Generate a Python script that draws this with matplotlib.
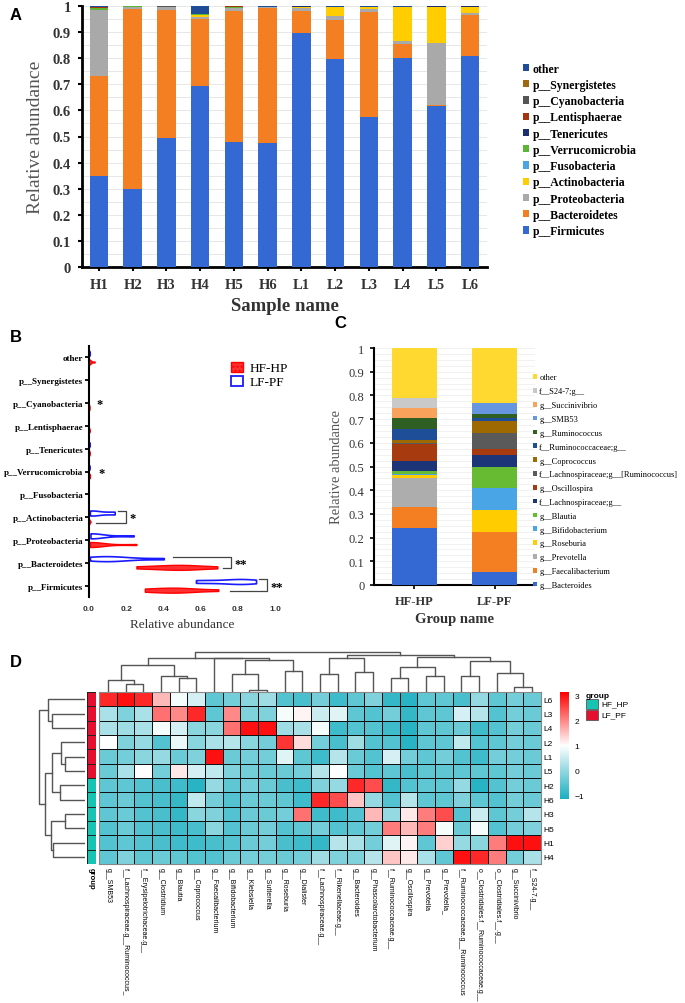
import numpy as np
import matplotlib.pyplot as plt
from matplotlib.colors import LinearSegmentedColormap, ListedColormap
from matplotlib.patches import Patch, Rectangle

SERIF = "Liberation Serif"
SANS = "Liberation Sans"

# ---------------- panel A data (H1..H6, L1..L6) ----------------
samples = ["H1", "H2", "H3", "H4", "H5", "H6", "L1", "L2", "L3", "L4", "L5", "L6"]
firmicutes = [0.350, 0.300, 0.495, 0.695, 0.480, 0.475, 0.898, 0.798, 0.575, 0.800, 0.615, 0.810]
bacteroidetes = [0.380, 0.690, 0.490, 0.255, 0.500, 0.517, 0.083, 0.150, 0.402, 0.055, 0.005, 0.157]
proteobacteria = [0.255, 0.006, 0.010, 0.008, 0.013, 0.006, 0.012, 0.012, 0.013, 0.010, 0.240, 0.008]
actinobacteria = [0.001, 0.000, 0.001, 0.008, 0.001, 0.000, 0.005, 0.036, 0.005, 0.130, 0.138, 0.021]
fusobacteria = [0.000] * 12
verrucomicrobia = [0.005, 0.004, 0.000, 0.002, 0.001, 0.000, 0.000, 0.000, 0.000, 0.000, 0.000, 0.002]
tenericutes = [0.003, 0.000, 0.002, 0.001, 0.001, 0.000, 0.001, 0.000, 0.002, 0.003, 0.001, 0.001]
lentisphaerae = [0.002, 0.000, 0.000, 0.000, 0.003, 0.000, 0.000, 0.000, 0.000, 0.000, 0.000, 0.000]
cyanobacteria = [0.002, 0.000, 0.001, 0.001, 0.001, 0.000, 0.000, 0.000, 0.000, 0.000, 0.000, 0.000]
synergistetes = [0.000] * 12
other_phyla = [0.002, 0.000, 0.001, 0.030, 0.000, 0.002, 0.001, 0.004, 0.003, 0.002, 0.001, 0.001]

phyla_names = ["p__Firmicutes", "p__Bacteroidetes", "p__Proteobacteria", "p__Actinobacteria",
               "p__Fusobacteria", "p__Verrucomicrobia", "p__Tenericutes", "p__Lentisphaerae",
               "p__Cyanobacteria", "p__Synergistetes", "other"]
phyla_vals = [firmicutes, bacteroidetes, proteobacteria, actinobacteria, fusobacteria,
              verrucomicrobia, tenericutes, lentisphaerae, cyanobacteria, synergistetes, other_phyla]
phyla_colors = ["#3469d4", "#f47e22", "#a9a9a9", "#ffcd00", "#4ba5e3", "#5db536",
                "#1b2f70", "#a3360f", "#555555", "#9e6a10", "#1f4d98"]

# ---------------- panel C data (HF-HP, LF-PF) ----------------
groups = ["HF-HP", "LF-PF"]
genus_names = ["g__Bacteroides", "g__Faecalibacterium", "g__Prevotella", "g__Roseburia",
               "g__Bifidobacterium", "g__Blautia", "f__Lachnospiraceae;g__", "g__Oscillospira",
               "f__Lachnospiraceae;g__[Ruminococcus]", "g__Coprococcus", "f__Ruminococcaceae;g__",
               "g__Ruminococcus", "g__SMB53", "g__Succinivibrio", "f__S24-7;g__", "other"]
genus_hf = [0.240, 0.088, 0.125, 0.012, 0.005, 0.010, 0.045, 0.072, 0.003, 0.012, 0.048,
            0.043, 0.002, 0.043, 0.042, 0.210]
genus_lf = [0.053, 0.169, 0.002, 0.091, 0.093, 0.092, 0.050, 0.025, 0.068, 0.049, 0.013,
            0.018, 0.047, 0.000, 0.000, 0.230]
genus_colors = ["#3469d4", "#f47e22", "#adadad", "#ffcc00", "#4aa5e6", "#66bb33", "#1c3578",
                "#a83a0f", "#5a5a5a", "#9e6a00", "#1f4e99", "#2f5f22", "#6796e0", "#f8a25c",
                "#c9c9c9", "#ffd92f"]

# ---------------- panel D data (z-scores) ----------------
hm_rows = ["L6", "L3", "L4", "L2", "L1", "L5", "H2", "H6", "H3", "H5", "H1", "H4"]
hm_group = [1, 1, 1, 1, 1, 1, 0, 0, 0, 0, 0, 0]
hm_cols = ["g__SMB53", "f__Lachnospiraceae.g__Ruminococcus_", "f__Erysipelotrichaceae.g__",
           "g__Clostridium", "g__Blautia", "g__Coprococcus", "g__Faecalibacterium",
           "g__Bifidobacterium", "g__Klebsiella", "g__Sutterella", "g__Roseburia", "g__Dialister",
           "f__Lachnospiraceae.g__", "f__Rikenellaceae.g__", "g__Bacteroides",
           "g__Phascolarctobacterium", "f__Ruminococcaceae.g__", "g__Oscillospira",
           "g__Prevotella", "g__Prevotella_", "f__Ruminococcaceae.g__Ruminococcus",
           "o__Clostridiales.f__Ruminococcaceae.g__", "o__Clostridiales.f__.g__",
           "g__Succinivibrio", "f__S24-7.g__"]
hm_vals = [
    [2.8, 3.0, 2.8, 1.6, 0.9, 0.6, -0.5, -0.3, -0.1, 0.1, -0.6, -0.7, -0.3, -0.8, -0.5, -0.2, -0.9, -1.0, -0.5, -0.5, -0.7, 0.0, -0.5, -0.3, -0.4],
    [0.2, -0.2, 0.2, 2.2, 2.0, 2.8, -0.5, 2.0, -0.2, -0.2, 0.9, 1.1, 0.5, 0.7, -0.5, -0.6, -0.3, -0.9, -0.5, -0.5, 0.6, 0.3, -0.6, -0.3, -0.4],
    [0.2, 0.1, 0.2, 0.9, 0.6, -0.1, -0.1, 2.2, 3.0, 3.0, 0.1, 0.2, 0.9, -0.8, -0.6, -0.6, -0.8, -1.0, -0.5, -0.5, -0.4, -0.8, -0.6, -0.3, -0.4],
    [1.0, -0.2, 0.0, -0.6, 0.8, -0.1, 0.2, 0.3, -0.1, -0.3, 2.7, 1.3, -0.3, -0.7, 0.1, -0.6, -0.6, -1.0, -0.5, -0.5, 0.4, -0.6, -0.5, -0.3, -0.4],
    [-0.4, -0.3, -0.1, 0.0, -0.4, -0.2, 3.0, -0.4, -0.3, -0.3, 0.7, -0.5, -0.8, 0.3, -0.4, -0.6, 0.6, -0.3, -0.5, -0.3, -0.6, -0.8, -0.3, -0.3, -0.4],
    [-0.4, 0.2, 1.0, -0.3, 1.2, 0.6, 0.4, -0.2, -0.3, -0.4, -0.4, -0.3, 0.3, 1.0, -0.4, -0.6, -0.5, -0.7, -0.5, -0.5, -0.5, -0.5, -0.5, -0.3, -0.4],
    [-0.5, -0.5, -0.6, -0.7, -0.8, -1.0, 0.0, -0.5, -0.3, -0.4, -0.7, -0.8, -0.2, 0.0, 2.8, 2.5, -0.9, -0.6, -0.5, -0.5, 0.0, -1.0, -0.6, -0.3, -0.4],
    [-0.5, -0.4, -0.6, -0.7, -0.9, 0.4, -0.3, -0.6, -0.4, -0.4, -0.5, -0.8, 2.8, 2.5, 1.5, 0.0, -0.6, 0.3, -0.5, -0.5, -0.2, -0.5, -0.6, -0.3, -0.4],
    [-0.5, -0.4, -0.6, -0.7, -0.9, -0.1, -0.2, -0.6, -0.4, -0.4, -0.3, 2.2, -0.8, -0.8, -0.6, 1.6, 0.0, 1.2, 2.1, 2.5, -0.6, 0.5, -0.5, -0.3, 0.3],
    [-0.6, -0.4, -0.6, -0.7, -0.8, -0.7, -0.1, -0.6, -0.4, -0.3, -0.6, -0.5, -0.3, -0.6, -0.5, -0.3, 2.1, 1.6, 2.1, 0.9, -0.4, 0.9, -0.6, -0.3, -0.2],
    [-0.6, -0.5, -0.6, -0.7, -0.8, -0.8, -0.7, -0.6, -0.4, -0.3, -0.7, -0.8, -0.9, 0.3, 0.2, -0.3, 0.7, 1.1, -0.5, 1.4, 0.0, -0.1, 2.1, 3.0, 3.0],
    [-0.5, -0.2, -0.5, -0.4, -0.5, -0.6, -0.6, -0.4, -0.3, -0.3, -0.4, -0.3, 0.1, -0.2, -0.2, 0.3, 1.5, 1.2, 0.2, -0.5, 3.0, 2.8, 2.1, -0.3, 0.2],
]
# cluster trees: (merge height, left, right); leaves are column / row indices
col_tree = (37.3,
            (32.0,
             (25.0, (10.7, 0, (7.3, 1, 2)), (15.0, 3, (13.0, 4, 5))),
             (31.3, 6, (29.7, (16.3, 7, (2.3, 8, 9)), (19.3, 10, 11)))),
            (34.7,
             (31.3, (17.0, 12, 13), (19.0, 14, 15)),
             (32.3, (23.7, (13.0, 16, 17), (15.3, 18, 19)),
              (29.0, (14.7, 20, 21), (17.3, 22, (5.0, 23, 24))))))
row_tree = (45.0,
            (36.7, 0, (32.3, 1, 2)),
            (39.3,
             (32.3, (23.3, 3, (19.3, 4, 5)), (24.3, 6, 7)),
             (33.3, (20.0, 8, 9), (31.7, 10, 11))))

W, H = 685, 1004
fig = plt.figure(figsize=(W / 100, H / 100), dpi=100)


def box(x0, y0, x1, y1):
    return [x0 / W, 1 - y1 / H, (x1 - x0) / W, (y1 - y0) / H]


def draw_tree(ax, node, horizontal):
    # returns (leaf-axis centre, height) and draws the U-links
    if isinstance(node, int):
        return node + 0.5, 0.0
    h, a, b = node
    ca, ha = draw_tree(ax, a, horizontal)
    cb, hb = draw_tree(ax, b, horizontal)
    xs = [ca, ca, cb, cb]
    ys = [ha, h, h, hb]
    if horizontal:
        ax.plot(ys, xs, color="#555555", lw=1.0)
    else:
        ax.plot(xs, ys, color="#555555", lw=1.0)
    return (ca + cb) / 2, h


# ================= A =================
axA = fig.add_axes(box(82, 7, 487, 268))
x = np.arange(len(samples))
bottom = np.zeros(len(samples))
handles = []
for name, vals, c in zip(phyla_names, phyla_vals, phyla_colors):
    b = axA.bar(x, vals, 0.55, bottom=bottom, color=c, zorder=3, label=name)
    bottom += np.array(vals)
    handles.append(b)
axA.set_xlim(-0.5, 11.5)
axA.set_ylim(0, 1)
yt = np.round(np.arange(0, 1.01, 0.1), 1)
axA.set_yticks(yt)
axA.set_yticklabels(["0" if v == 0 else ("1" if v == 1 else f"{v:g}") for v in yt],
                    fontfamily=SERIF, fontweight="bold", fontsize=10.5, color="#333333")
axA.set_yticks(np.arange(0.05, 1.0, 0.1), minor=True)
axA.set_xticks(x)
axA.set_xticklabels(samples, fontfamily=SERIF, fontweight="bold", fontsize=10.5, color="#333333")
axA.grid(axis="y", which="both", color="#e3e3e3", lw=0.6, zorder=0)
axA.tick_params(axis="y", which="minor", length=0)
axA.tick_params(axis="both", which="major", length=3, width=1.5, pad=5)
for s in ["top", "right"]:
    axA.spines[s].set_visible(False)
for s in ["left", "bottom"]:
    axA.spines[s].set_linewidth(2)
axA.set_ylabel("Relative abundance", fontfamily=SERIF, fontsize=14, color="#555555", labelpad=6)
axA.set_xlabel("Sample name", fontfamily=SERIF, fontweight="bold", fontsize=13.5,
               color="#333333", labelpad=4)
fig.legend(handles[::-1], phyla_names[::-1], loc="upper left", bbox_to_anchor=(512 / W, 1 - 53 / H),
           frameon=False, prop={"family": SERIF, "weight": "bold", "size": 8.5},
           handlelength=0.55, handleheight=0.55, handletextpad=0.3, labelspacing=0.36)

# ================= B =================
axB = fig.add_axes(box(89, 347, 275, 598))
for i, vals in enumerate(phyla_vals):
    hf = np.array(vals[:6])
    lf = np.array(vals[6:])
    if lf.std() > 0:
        v = axB.violinplot([lf], positions=[i + 0.18], orientation="horizontal", widths=0.22,
                           showextrema=False)
        for body in v["bodies"]:
            body.set_facecolor("white")
            body.set_edgecolor("#1a1aff")
            body.set_linewidth(1.2)
            body.set_alpha(1)
    if hf.std() > 0:
        v = axB.violinplot([hf], positions=[i - 0.2], orientation="horizontal", widths=0.22,
                           showextrema=False)
        for body in v["bodies"]:
            body.set_facecolor("#ff3030")
            body.set_edgecolor("#ff0000")
            body.set_linewidth(1.0)
            body.set_alpha(1)
axB.set_ylim(-0.5, 10.5)
axB.set_xlim(0, 1.0)
axB.set_yticks(range(len(phyla_names)))
axB.set_yticklabels(phyla_names, fontfamily=SERIF, fontweight="bold", fontsize=6.5)
axB.set_xticks(np.round(np.arange(0, 1.01, 0.2), 1))
axB.set_xticklabels([f"{v:.1f}" for v in np.arange(0, 1.01, 0.2)], fontfamily=SANS,
                    fontweight="bold", fontsize=6, color="#333333")
axB.tick_params(axis="x", length=0, pad=6)
axB.tick_params(axis="y", length=3, width=1.3, pad=1)
for s in ["top", "right", "bottom"]:
    axB.spines[s].set_visible(False)
axB.spines["left"].set_linewidth(1.5)
axB.set_xlabel("Relative abundance", fontfamily=SERIF, fontsize=9.5, color="#333333", labelpad=4)
# significance brackets: (category, top-line start, bottom-line start, bracket x, stars)
brackets = [(3, 0.157, 0.038, 0.20, "*"), (1, 0.45, 0.719, 0.763, "**"), (0, 0.916, 0.757, 0.955, "**")]
for cy, xt, xb, xv, lab in brackets:
    axB.plot([xt, xv, xv, xb], [cy + 0.27, cy + 0.27, cy - 0.25, cy - 0.25], color="#444444", lw=0.9)
    axB.text(xv + 0.02, cy - 0.05, lab, fontfamily=SERIF, fontweight="bold", fontsize=9, va="center")
for cy, xs in [(8, 0.04), (5, 0.05)]:
    axB.text(xs, cy - 0.05, "*", fontfamily=SERIF, fontweight="bold", fontsize=9, va="center")
axB.legend([Patch(facecolor="#ff3030", edgecolor="#ff0000", hatch="...."),
            Patch(facecolor="white", edgecolor="#1a1aff", lw=1.3)], ["HF-HP", "LF-PF"],
           loc="upper left", bbox_to_anchor=(0.7, 0.985), frameon=False,
           prop={"family": SERIF, "size": 9.5}, handlelength=0.9, handleheight=0.8,
           handletextpad=0.5, labelspacing=0.1)

# ================= C =================
axC = fig.add_axes(box(374, 349, 535, 586))
xc = np.arange(len(groups))
bot = np.zeros(len(groups))
hC = []
for name, a, b, c in zip(genus_names, genus_hf, genus_lf, genus_colors):
    bb = axC.bar(xc, [a, b], 0.565, bottom=bot, color=c, zorder=3, label=name)
    bot += np.array([a, b])
    hC.append(bb)
axC.set_xlim(-0.5, 1.5)
axC.set_ylim(0, 1)
axC.set_yticks(yt)
axC.set_yticklabels(["0" if v == 0 else ("1" if v == 1 else f"{v:g}") for v in yt],
                    fontfamily=SERIF, fontsize=9, color="#333333")
axC.set_yticks(np.arange(0.025, 1.0, 0.025), minor=True)
axC.set_xticks(xc)
axC.set_xticklabels(groups, fontfamily=SERIF, fontweight="bold", fontsize=9, color="#333333")
axC.grid(axis="y", which="both", color="#ececec", lw=0.5, zorder=0)
axC.tick_params(axis="y", which="minor", length=0)
axC.tick_params(axis="both", which="major", length=3, width=1.2, pad=4)
for s in ["top", "right"]:
    axC.spines[s].set_visible(False)
for s in ["left", "bottom"]:
    axC.spines[s].set_linewidth(1.5)
axC.set_ylabel("Relative abundance", fontfamily=SERIF, fontsize=10.5, color="#555555", labelpad=4)
axC.set_xlabel("Group name", fontfamily=SERIF, fontweight="bold", fontsize=10.5,
               color="#333333", labelpad=4)
fig.legend(hC[::-1], genus_names[::-1], loc="upper left", bbox_to_anchor=(525 / W, 1 - 367 / H),
           frameon=False, prop={"family": SERIF, "size": 6.0},
           handlelength=0.5, handleheight=0.5, handletextpad=0.3, labelspacing=0.7)

# ================= D =================
cmap = LinearSegmentedColormap.from_list("tw", ["#1bafc1", "#ffffff", "#ff0000"])
vals = np.array(hm_vals)
axD = fig.add_axes(box(99, 693, 541, 865))
axD.pcolormesh(vals, cmap=cmap, vmin=-1.15, vmax=3.15, edgecolors="#111111", linewidth=0.6)
axD.set_xlim(0, len(hm_cols))
axD.set_ylim(len(hm_rows), 0)
axD.set_xticks(np.arange(len(hm_cols)) + 0.5)
axD.set_xticklabels(hm_cols, rotation=270, fontfamily=SANS, fontsize=5, va="top", ha="center")
axD.set_yticks(np.arange(len(hm_rows)) + 0.5)
axD.set_yticklabels(hm_rows, fontfamily=SANS, fontsize=6)
axD.yaxis.tick_right()
axD.tick_params(length=0, pad=2)
for s in axD.spines.values():
    s.set_edgecolor("#888888")

axG = fig.add_axes(box(87, 693, 96, 865))
axG.pcolormesh(np.array(hm_group)[:, None], cmap=ListedColormap(["#17c3b2", "#e5102f"]),
               vmin=0, vmax=1, edgecolors="#222222", linewidth=0.5)
axG.set_ylim(len(hm_rows), 0)
axG.set_xticks([0.5])
axG.set_xticklabels(["group"], rotation=270, fontfamily=SANS, fontweight="bold", fontsize=5.5,
                    va="top", ha="center")
axG.set_yticks([])
axG.tick_params(length=0, pad=2)
for s in axG.spines.values():
    s.set_visible(False)

axDc = fig.add_axes(box(99, 650, 541, 693))
draw_tree(axDc, col_tree, horizontal=False)
axDc.set_xlim(0, len(hm_cols))
axDc.set_ylim(0, 40)
axDc.axis("off")

axDr = fig.add_axes(box(36, 693, 85, 865))
draw_tree(axDr, row_tree, horizontal=True)
axDr.set_ylim(len(hm_rows), 0)
axDr.set_xlim(48, 0)
axDr.axis("off")

axCb = fig.add_axes(box(560, 693, 569, 800))
axCb.imshow(np.linspace(3.15, -1.15, 200)[:, None], cmap=cmap, vmin=-1.15, vmax=3.15,
            aspect="auto", extent=[0, 1, -1.15, 3.15])
axCb.set_xticks([])
axCb.yaxis.tick_right()
axCb.set_yticks([-1, 0, 1, 2, 3])
axCb.set_yticklabels(["\u22121", "0", "1", "2", "3"], fontfamily=SANS, fontsize=6)
axCb.tick_params(length=0, pad=4)
for s in axCb.spines.values():
    s.set_visible(False)

fig.text(586 / W, 1 - 696 / H, "group", fontfamily=SANS, fontweight="bold", fontsize=6, va="center")
for k, (lab, col) in enumerate([("HF_HP", "#17c3b2"), ("LF_PF", "#e5102f")]):
    y0 = 700 + k * 11
    fig.patches.append(Rectangle((586 / W, 1 - (y0 + 10) / H), 12 / W, 10 / H, facecolor=col,
                                 edgecolor="#555555", lw=0.6, transform=fig.transFigure))
    fig.text(601 / W, 1 - (y0 + 5) / H, lab, fontfamily=SANS, fontsize=6, va="center")

# panel letters
for lab, px, py in [("A", 10, 20), ("B", 10, 342), ("C", 334, 328), ("D", 10, 667)]:
    fig.text(px / W, 1 - py / H, lab, fontfamily=SANS, fontweight="bold", fontsize=12)

fig.savefig("out.png", dpi=100)
